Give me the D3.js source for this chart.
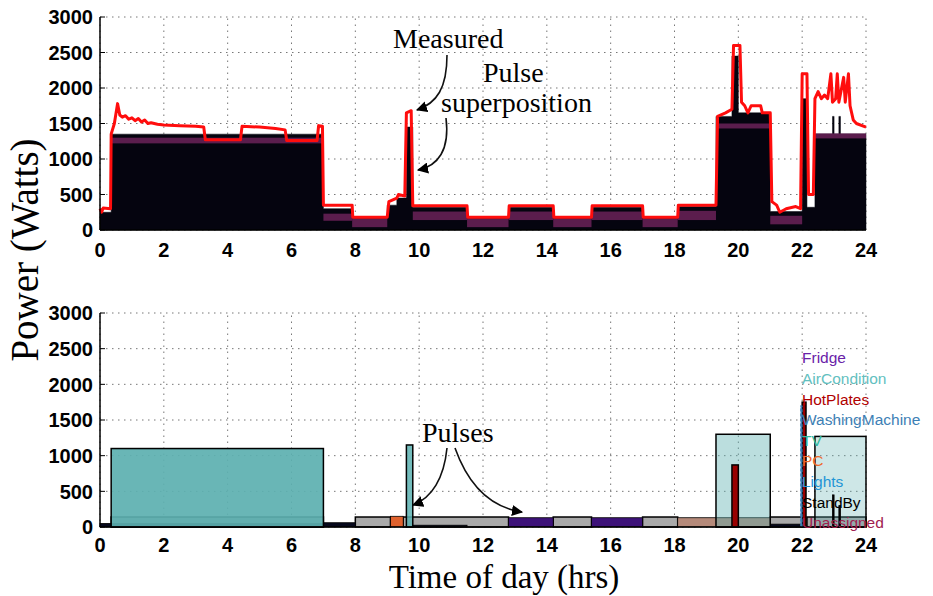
<!DOCTYPE html>
<html><head><meta charset="utf-8">
<script src="https://cdn.jsdelivr.net/npm/d3@7"></script>
<style>body{margin:0;background:#fff}svg{display:block}</style>
</head><body>
<svg id="c" width="933" height="596"></svg>
<script>
// ---------- DATA ----------
const xTicks = [0,2,4,6,8,10,12,14,16,18,20,22,24];
const yTicks = [0,500,1000,1500,2000,2500,3000];

// Top: pulse superposition (step values start at time)
const superTimes  = [0, 0.35, 7.0, 7.9, 9.0, 9.3, 9.6, 9.8, 11.5, 12.8, 14.2, 15.4, 17.0, 18.1, 19.3, 19.8, 20.0, 21.0, 22.0, 22.15, 22.4, 22.95, 23.0, 23.15, 23.2, 24];
const superValues = [250, 1350, 300, 170, 350, 450, 1450, 320, 170, 320, 170, 320, 170, 330, 1600, 2450, 1650, 260, 1850, 320, 1350, 1600, 1350, 1600, 1350, 1350];

// Top: fridge band inside the superposition
const bandStart = [0.35, 7.0, 7.9, 9.8, 11.5, 12.8, 14.2, 15.4, 17.0, 18.1, 19.3, 21.0, 22.4];
const bandEnd   = [7.0, 7.9, 9.0, 11.5, 12.8, 14.2, 15.4, 17.0, 18.1, 19.3, 21.0, 22.0, 24.0];
const bandLo    = [1220, 130, 40, 140, 40, 140, 40, 140, 40, 140, 1430, 80, 1290];
const bandHi    = [1300, 230, 165, 260, 165, 260, 165, 260, 165, 270, 1500, 200, 1360];

// Top: measured power
const measTimes  = [0, 0.05, 0.1, 0.33, 0.35, 0.45, 0.55, 0.62, 0.7, 0.8, 0.9, 1.0, 1.1, 1.2, 1.3, 1.4, 1.5, 1.6, 1.8, 2.0, 2.5, 3.0, 3.25, 3.3, 4.4, 4.45, 5.0, 5.5, 5.8, 5.85, 6.8, 6.85, 6.97, 7.0, 7.9, 7.92, 9.0, 9.05, 9.3, 9.35, 9.55, 9.6, 9.75, 9.8, 11.5, 11.52, 12.8, 12.82, 14.2, 14.22, 15.4, 15.42, 17.0, 17.02, 18.1, 18.12, 19.3, 19.35, 19.6, 19.8, 19.85, 20.05, 20.1, 20.2, 20.3, 20.4, 20.7, 20.75, 21.0, 21.05, 21.2, 21.3, 21.5, 21.8, 21.95, 22.0, 22.15, 22.2, 22.35, 22.4, 22.5, 22.6, 22.7, 22.8, 22.9, 22.95, 23.05, 23.1, 23.15, 23.3, 23.35, 23.45, 23.5, 23.6, 23.7, 24.0];
const measValues = [300, 250, 310, 300, 1350, 1500, 1780, 1620, 1590, 1610, 1560, 1580, 1540, 1570, 1520, 1550, 1500, 1510, 1490, 1480, 1470, 1460, 1450, 1270, 1270, 1460, 1450, 1430, 1410, 1260, 1260, 1470, 1460, 350, 350, 180, 180, 400, 450, 500, 480, 1650, 1680, 340, 340, 180, 180, 340, 340, 180, 180, 340, 340, 180, 180, 350, 350, 1600, 1650, 1700, 2600, 2600, 1800, 1750, 1650, 1750, 1750, 1650, 1650, 400, 350, 250, 300, 330, 300, 2200, 2200, 500, 500, 1850, 1950, 1850, 1900, 1850, 2200, 1800, 1850, 2200, 1800, 2150, 1800, 2200, 1750, 1550, 1500, 1450];

// Bottom: pulses
const pulseApp   = ["StandBy","StandBy","StandBy","StandBy","StandBy","StandBy","StandBy",
                    "Base","Base","Base","Base",
                    "Fridge","Fridge","PC","Unassigned",
                    "AirCondition","AirCondition","AirCondition","AirCondition",
                    "HotPlates","HotPlates","WashingMachine","Spike","Spike"];
const pulseStart = [0.35, 8.0, 9.5, 14.2, 17.0, 21.0, 22.15, 0, 7.0, 9.8, 19.3, 12.8, 15.4, 9.1, 18.1, 0.35, 9.6, 19.3, 22.4, 19.8, 22.0, 21.95, 22.95, 23.15];
const pulseEnd   = [7.0, 9.1, 12.8, 15.4, 18.1, 22.0, 24.0, 7.0, 8.0, 11.5, 22.0, 14.2, 17.0, 9.5, 21.0, 7.0, 9.8, 21.0, 24.0, 20.0, 22.12, 22.0, 23.0, 23.2];
const pulsePower = [140, 140, 140, 140, 140, 140, 140, 50, 60, 25, 40, 130, 130, 150, 130, 1100, 1150, 1300, 1270, 870, 1750, 1700, 450, 300];

const legendNames = ["Fridge","AirCondition","HotPlates","WashingMachine","TV","PC","Lights","StandBy","Unassigned"];

// ---------- STYLES ----------
const legendColors = ["#6a22a8","#62c0c0","#b00000","#3d80b5","#33b89c","#ef6a2c","#1e95d6","#000000","#a0204f"];
const pulseFill = {StandBy:"#a9a9a9", Base:"#06081c", Fridge:"#3d1279", PC:"#e0622e", Unassigned:"#b58a7a",
                   AirCondition:"#5cb0b0", HotPlates:"#990000", WashingMachine:"#3b7db3", Spike:"#000"};
const acOpacity = [0.92, 0.85, 0.42, 0.3];

const svg = d3.select("#c");
const x = d3.scaleLinear([0,24],[100,866]);
const yT = d3.scaleLinear([0,3000],[230,17]);
const yB = d3.scaleLinear([0,3000],[527,313]);

function frame(y){
  const g = svg.append("g");
  g.selectAll(".gx").data(xTicks).join("line")
    .attr("x1",d=>x(d)).attr("x2",d=>x(d)).attr("y1",y(0)).attr("y2",y(3000))
    .attr("stroke","#777").attr("stroke-width",1).attr("stroke-dasharray","1.5,4.5");
  g.selectAll(".gy").data(yTicks).join("line")
    .attr("x1",x(0)).attr("x2",x(24)).attr("y1",d=>y(d)).attr("y2",d=>y(d))
    .attr("stroke","#777").attr("stroke-width",1).attr("stroke-dasharray","1.5,4.5");
  return g;
}
function axes(y, xLabBase){
  const g = svg.append("g");
  g.append("line").attr("x1",x(0)).attr("x2",x(0)).attr("y1",y(0)).attr("y2",y(3000)).attr("stroke","#000").attr("stroke-width",1.5);
  g.append("line").attr("x1",x(0)).attr("x2",x(24)).attr("y1",y(0)).attr("y2",y(0)).attr("stroke","#000").attr("stroke-width",1.5);
  g.selectAll(".ty").data(yTicks).join("line").attr("x1",x(0)).attr("x2",x(0)+5).attr("y1",d=>y(d)).attr("y2",d=>y(d)).attr("stroke","#000");
  g.selectAll(".yl").data(yTicks).join("text")
    .attr("x",93).attr("y",d=>y(d)).attr("dy","0.36em").attr("text-anchor","end")
    .attr("font-family","Liberation Sans, Arial, sans-serif").attr("font-weight","bold").attr("font-size",20)
    .text(d=>d);
  g.selectAll(".xl").data(xTicks).join("text")
    .attr("x",d=>x(d)).attr("y",xLabBase).attr("text-anchor","middle")
    .attr("font-family","Liberation Sans, Arial, sans-serif").attr("font-weight","bold").attr("font-size",20)
    .text(d=>d);
}

// ---------- TOP ----------
frame(yT);
const superPts = superTimes.map((t,i)=>[t, superValues[i]]);
svg.append("path").datum(superPts)
  .attr("d", d3.area().x(d=>x(d[0])).y0(yT(0)).y1(d=>yT(d[1])).curve(d3.curveStepAfter))
  .attr("fill","#05040f").attr("stroke","#05040f").attr("stroke-width",0.5);
svg.selectAll(".band").data(bandStart).join("rect")
  .attr("x",(d,i)=>x(d)).attr("width",(d,i)=>x(bandEnd[i])-x(d))
  .attr("y",(d,i)=>yT(bandHi[i])).attr("height",(d,i)=>yT(bandLo[i])-yT(bandHi[i]))
  .attr("fill","#5b1d4d");
const measPts = measTimes.map((t,i)=>[t, measValues[i]]);
svg.append("path").datum(measPts)
  .attr("d", d3.line().x(d=>x(d[0])).y(d=>yT(d[1])))
  .attr("fill","none").attr("stroke","#ff0d0d").attr("stroke-width",3).attr("stroke-linejoin","round");
axes(yT, 257);

// ---------- BOTTOM ----------
frame(yB);
svg.selectAll(".pulse").data(pulseApp).join("rect")
  .attr("x",(d,i)=>x(pulseStart[i])).attr("width",(d,i)=>Math.max(1.5, x(pulseEnd[i])-x(pulseStart[i])))
  .attr("y",(d,i)=>yB(pulsePower[i])).attr("height",(d,i)=>yB(0)-yB(pulsePower[i]))
  .attr("fill",d=>pulseFill[d])
  .attr("fill-opacity",(d,i)=> d==="AirCondition" ? acOpacity[pulseApp.slice(0,i).filter(a=>a==="AirCondition").length] : 1)
  .attr("stroke",d=> d==="WashingMachine" ? "#3b7db3" : "#000")
  .attr("stroke-width",d=> (d==="StandBy"||d==="AirCondition"||d==="HotPlates") ? 1.5 : 0.8)
  .attr("stroke-dasharray",d=> d==="WashingMachine" ? "3,2" : null);
axes(yB, 552);

// legend
svg.selectAll(".leg").data(legendNames).join("text")
  .attr("x",802).attr("y",(d,i)=>358+i*20.6).attr("dy","0.35em")
  .attr("font-family","Liberation Sans, Arial, sans-serif").attr("font-size",15.5)
  .attr("fill",(d,i)=>legendColors[i]).text(d=>d);

// ---------- LABELS ----------
svg.append("text").attr("transform","translate(38,250) rotate(-90)").attr("text-anchor","middle")
  .attr("font-family","Liberation Serif, Times New Roman, serif").attr("font-size",39).text("Power (Watts)");
svg.append("text").attr("x",504).attr("y",588).attr("text-anchor","middle")
  .attr("font-family","Liberation Serif, Times New Roman, serif").attr("font-size",33).text("Time of day (hrs)");

// annotations
const ann = svg.append("g").attr("font-family","Liberation Serif, Times New Roman, serif").attr("font-size",28);
ann.append("text").attr("x",393).attr("y",48).text("Measured");
ann.append("text").attr("x",483).attr("y",82).text("Pulse");
ann.append("text").attr("x",441).attr("y",112).text("superposition");
ann.append("text").attr("x",422).attr("y",442).text("Pulses");

svg.append("defs").append("marker").attr("id","ah").attr("viewBox","0 0 10 10").attr("refX",9).attr("refY",5)
  .attr("markerWidth",7).attr("markerHeight",7).attr("orient","auto")
  .append("path").attr("d","M0,0 L10,5 L0,10 z").attr("fill","#000");
const arrows = ["M447,55 C447,88 437,103 417,110","M446,118 C450,150 438,166 418,170",
                "M447,448 C444,478 432,498 413,505","M455,448 C470,490 495,508 522,512"];
svg.selectAll(".arr").data(arrows).join("path").attr("d",d=>d).attr("fill","none")
  .attr("stroke","#111").attr("stroke-width",1.6).attr("marker-end","url(#ah)");
</script>
</body></html>
